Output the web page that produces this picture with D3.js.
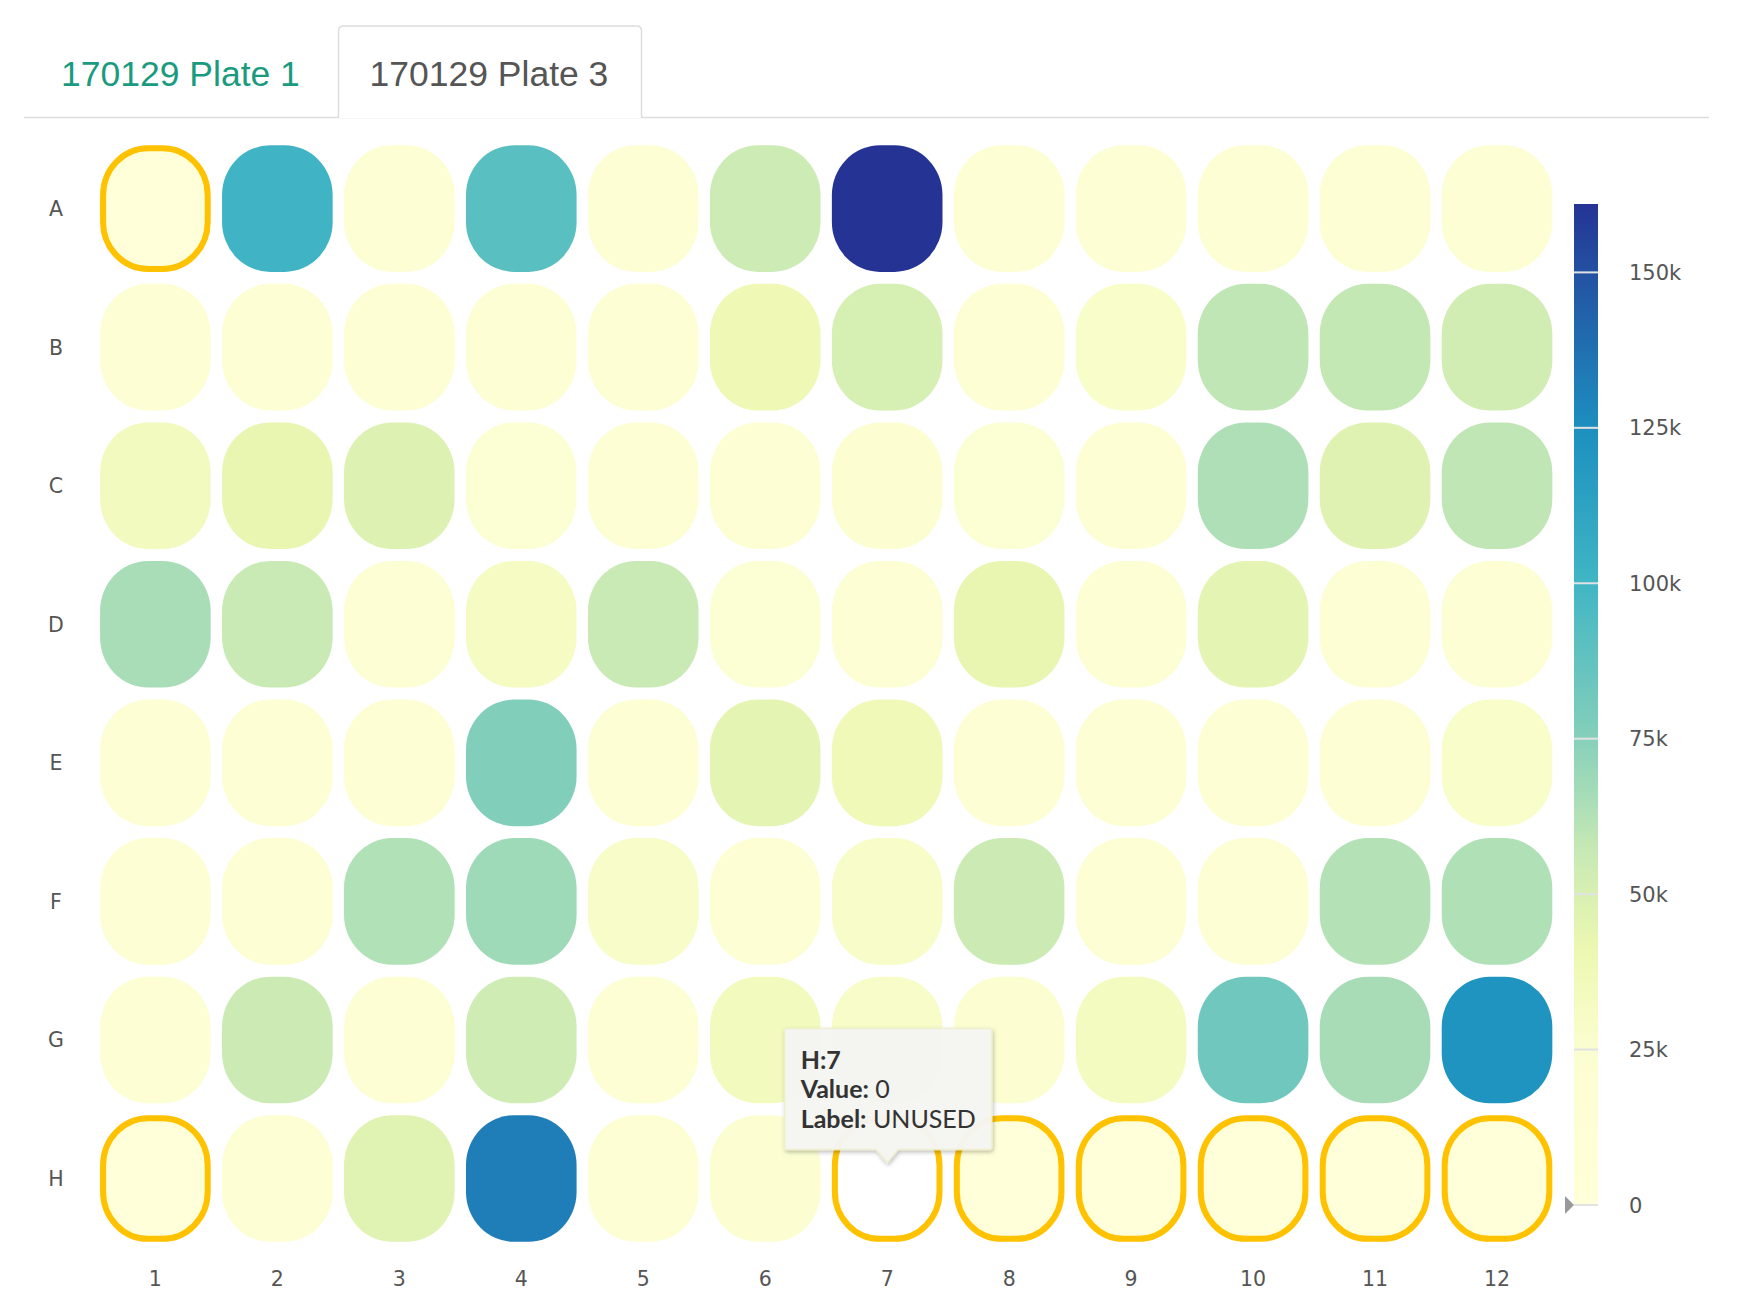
<!DOCTYPE html>
<html>
<head>
<meta charset="utf-8">
<script src="https://cdn.jsdelivr.net/npm/d3@7"></script>
<style>
  html, body { margin: 0; padding: 0; background: #fff; }
  svg { display: block; }
</style>
</head>
<body>
<svg id="chart" width="1740" height="1298"></svg>
<script>
// ---------------- data ----------------
const tabLabels = ["170129 Plate 1", "170129 Plate 3"];
const activeTab = 1;
const rowLabels = ["A", "B", "C", "D", "E", "F", "G", "H"];
const colLabels = [1, 2, 3, 4, 5, 6, 7, 8, 9, 10, 11, 12];
const rowA = [0, 101000, 18000, 91000, 19000, 54500, 161000, 18000, 19000, 19000, 19000, 19000];
const rowB = [16000, 17000, 18000, 19000, 19000, 38700, 50700, 20000, 28000, 59000, 58000, 52800];
const rowC = [34000, 43000, 47700, 22000, 18000, 20000, 23000, 22000, 20000, 64000, 47000, 59000];
const rowD = [65300, 56000, 20000, 32000, 56000, 21000, 19000, 43000, 19000, 44800, 19000, 19000];
const rowE = [16000, 17000, 18000, 76500, 18000, 45000, 38000, 20000, 20000, 20000, 20000, 28000];
const rowF = [17000, 18000, 63000, 68400, 29000, 19000, 29000, 55000, 19000, 20000, 62300, 63400];
const rowG = [18000, 55500, 19000, 54000, 19000, 35000, 29000, 23000, 33000, 83000, 66000, 122000];
const rowH = [0, 18000, 46500, 132000, 18000, 24000, 0, 0, 0, 0, 0, 0];
const unusedWells = ["A1", "H1", "H7", "H8", "H9", "H10", "H11", "H12"];
const hoveredWell = "H7";
const legendTicks = [0, 25000, 50000, 75000, 100000, 125000, 150000];
const legendMax = 161000;
const colorStops = [0, 24000, 41000, 57000, 77000, 100000, 124000, 145000, 161000];
const colorRange = ["#ffffd9", "#fcfed2", "#edf8b1", "#c7e9b4", "#7fcdbb", "#41b6c4", "#1d91c0", "#225ea8", "#253494"];

const rowValues = [rowA, rowB, rowC, rowD, rowE, rowF, rowG, rowH];
const wells = [];
rowLabels.forEach((r, i) => colLabels.forEach((c, j) => {
  const id = r + c;
  wells.push({ row: r, col: c, id, value: rowValues[i][j],
    label: unusedWells.includes(id) ? "UNUSED" : "SAMPLE" });
}));

// ---------------- setup ----------------
const svg = d3.select("#chart");
const defs = svg.append("defs");

const color = d3.scaleLinear().domain(colorStops).range(colorRange)
  .interpolate(d3.interpolateRgb).clamp(true);

const x = d3.scaleBand().domain(colLabels).range([94.4, 1558]).paddingInner(0.093).paddingOuter(0.0465);
const y = d3.scaleBand().domain(rowLabels).range([139.3, 1247.8]).paddingInner(0.086).paddingOuter(0.043);

// ---------------- tabs ----------------
const tabs = svg.append("g").attr("font-family", "'Liberation Sans', Arial, sans-serif");
tabs.append("line").attr("x1", 24).attr("x2", 1709).attr("y1", 117.5).attr("y2", 117.5)
  .attr("stroke", "#dddddd").attr("stroke-width", 1.5);
const tabX = [27, 338.5, 641.5];
{
  const l = tabX[activeTab], r = tabX[activeTab + 1], t = 26, b = 118, rr = 5;
  tabs.append("path")
    .attr("d", `M${l},${b} L${l},${t + rr} Q${l},${t} ${l + rr},${t} L${r - rr},${t} Q${r},${t} ${r},${t + rr} L${r},${b}`)
    .attr("fill", "#fff").attr("stroke", "#dddddd").attr("stroke-width", 1.5);
}
tabLabels.forEach((t, i) => {
  tabs.append("text").attr("x", i === 0 ? 61 : 369.5).attr("y", 86)
    .attr("font-size", 35.5)
    .attr("fill", i === activeTab ? "#555555" : "#1a9b80")
    .text(t);
});

// ---------------- wells ----------------
const bw = x.bandwidth(), bh = y.bandwidth();
const gWells = svg.append("g");
gWells.selectAll("rect.well").data(wells).join("rect")
  .attr("class", "well")
  .attr("x", d => x(d.col) + (d.label === "UNUSED" ? 3 : 0))
  .attr("y", d => y(d.row) + (d.label === "UNUSED" ? 3 : 0))
  .attr("width", d => bw - (d.label === "UNUSED" ? 6 : 0))
  .attr("height", d => bh - (d.label === "UNUSED" ? 6 : 0))
  .attr("rx", d => d.label === "UNUSED" ? 45 : 48)
  .attr("ry", d => d.label === "UNUSED" ? 47 : 50)
  .attr("fill", d => d.id === hoveredWell ? "#ffffff" : color(d.value))
  .attr("stroke", d => d.label === "UNUSED" ? "#ffc200" : "none")
  .attr("stroke-width", 6);

// ---------------- axes labels ----------------
const axisFont = "'DejaVu Sans', Verdana, sans-serif";
svg.append("g").selectAll("text").data(rowLabels).join("text")
  .attr("x", 56).attr("y", d => y(d) + bh / 2)
  .attr("dy", "0.36em").attr("text-anchor", "middle")
  .attr("font-family", axisFont).attr("font-size", 20.5).attr("fill", "#555")
  .text(d => d);
svg.append("g").selectAll("text").data(colLabels).join("text")
  .attr("x", d => x(d) + bw / 2).attr("y", 1286)
  .attr("text-anchor", "middle")
  .attr("font-family", axisFont).attr("font-size", 20.5).attr("fill", "#555")
  .text(d => d);

// ---------------- legend ----------------
const ly = d3.scaleLinear().domain([0, legendMax]).range([1205, 204]);
const grad = defs.append("linearGradient").attr("id", "lg")
  .attr("x1", 0).attr("y1", 1).attr("x2", 0).attr("y2", 0);
d3.range(0, 1.0001, 0.02).forEach(t => {
  grad.append("stop").attr("offset", t).attr("stop-color", color(t * legendMax));
});
const lg = svg.append("g");
lg.append("rect").attr("x", 1574).attr("y", ly(legendMax)).attr("width", 24)
  .attr("height", ly(0) - ly(legendMax)).attr("fill", "url(#lg)");
lg.selectAll("line.tick").data(legendTicks).join("line")
  .attr("class", "tick")
  .attr("x1", 1574).attr("x2", 1598)
  .attr("y1", d => ly(d)).attr("y2", d => ly(d))
  .attr("stroke", "#e2e2e2").attr("stroke-width", 2);
const fmt = d => d === 0 ? "0" : (d / 1000) + "k";
lg.selectAll("text").data(legendTicks).join("text")
  .attr("x", 1629).attr("y", d => ly(d)).attr("dy", "0.36em")
  .attr("font-family", axisFont).attr("font-size", 21).attr("fill", "#555")
  .text(fmt);
const hv = wells.find(w => w.id === hoveredWell);
lg.append("path")
  .attr("d", `M1565,${ly(hv.value) - 9} L1574,${ly(hv.value)} L1565,${ly(hv.value) + 9} Z`)
  .attr("fill", "#999");

// ---------------- tooltip ----------------
const filt = defs.append("filter").attr("id", "shadow").attr("x", "-20%").attr("y", "-20%")
  .attr("width", "140%").attr("height", "150%");
filt.append("feDropShadow").attr("dx", 1).attr("dy", 2).attr("stdDeviation", 2)
  .attr("flood-color", "#000").attr("flood-opacity", 0.28);
const cx = x(hv.col) + bw / 2;
const tipY = y(hv.row) + bh / 2 - 16;
const boxL = cx - 102.5, boxR = cx + 104.5, boxT = tipY - 134, boxB = tipY - 13;
const tt = svg.append("g");
tt.append("path")
  .attr("d", `M${boxL + 2},${boxT} L${boxR - 2},${boxT} Q${boxR},${boxT} ${boxR},${boxT + 2} L${boxR},${boxB - 2} Q${boxR},${boxB} ${boxR - 2},${boxB}
    L${cx + 11},${boxB} L${cx},${tipY} L${cx - 11},${boxB} L${boxL + 2},${boxB} Q${boxL},${boxB} ${boxL},${boxB - 2} L${boxL},${boxT + 2} Q${boxL},${boxT} ${boxL + 2},${boxT} Z`)
  .attr("fill", "rgba(246,246,243,0.96)")
  .attr("stroke", "rgba(240,238,205,0.9)").attr("stroke-width", 1.5)
  .attr("filter", "url(#shadow)");
const ttLines = [
  [hv.row + ":" + hv.col, ""],
  ["Value:", " " + hv.value],
  ["Label:", " " + hv.label]
];
const ttText = tt.append("g").attr("font-family", "Lato, 'Open Sans', sans-serif")
  .attr("font-size", 25).attr("fill", "#333");
ttLines.forEach((ln, i) => {
  const t = ttText.append("text").attr("x", boxL + 16).attr("y", boxT + 40 + i * 29.5);
  t.append("tspan").attr("font-weight", "bold").text(ln[0]);
  if (ln[1]) t.append("tspan").attr("font-weight", "normal").text(ln[1]);
});
</script>
</body>
</html>
